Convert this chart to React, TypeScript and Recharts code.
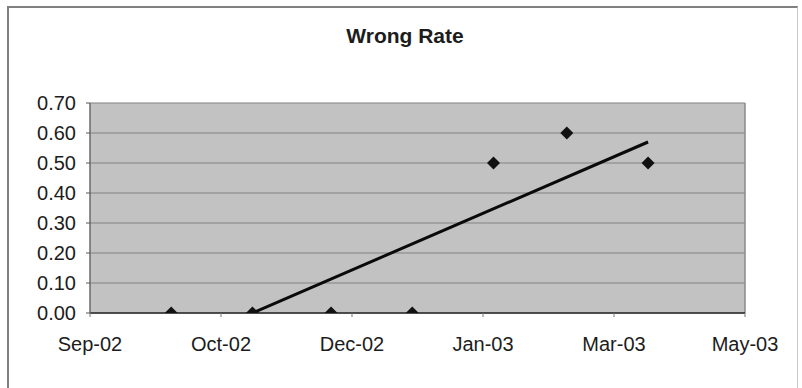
import React from "react";
import {
  CartesianGrid,
  ReferenceLine,
  Scatter,
  ScatterChart,
  XAxis,
  YAxis,
} from "recharts";

// sample dates (2nd of each month) and the wrong rate
const sampleDates = [
  "2002-10-02",
  "2002-11-02",
  "2002-12-02",
  "2003-01-02",
  "2003-02-02",
  "2003-03-02",
  "2003-04-02",
];
const wrongRate = [0, 0, 0, 0, 0.5, 0.6, 0.5];

// linear trendline, shown from where it crosses zero up to the last sample
const trendDates = ["2002-11-02", "2003-04-02"];
const trendValues = [0, 0.57];

// Excel-style axis: 50-day major unit from 1 Sep 2002
const xTickDates = [
  "2002-09-01",
  "2002-10-21",
  "2002-12-10",
  "2003-01-29",
  "2003-03-20",
  "2003-05-09",
];
const yTicks = [0, 0.1, 0.2, 0.3, 0.4, 0.5, 0.6, 0.7];

const MONTHS = ["Jan", "Feb", "Mar", "Apr", "May", "Jun", "Jul", "Aug", "Sep", "Oct", "Nov", "Dec"];

function toDay(iso: string): number {
  const [y, m, d] = iso.split("-").map(Number);
  return Date.UTC(y, m - 1, d) / 86400000;
}

function formatMonth(day: number): string {
  const dt = new Date(Math.round(day) * 86400000);
  const yy = String(dt.getUTCFullYear() % 100).padStart(2, "0");
  return `${MONTHS[dt.getUTCMonth()]}-${yy}`;
}

const points = sampleDates.map((d, i) => ({ x: toDay(d), y: wrongRate[i] }));
const trend = trendDates.map((d, i) => ({ x: toDay(d), y: trendValues[i] }));
const xTicks = xTickDates.map(toDay);

const FONT = "'Liberation Sans', Arial, sans-serif";
const tickStyle = { fontFamily: FONT, fontSize: 20, fill: "#1c1c1c" };

function Diamond(props: any) {
  const { cx, cy } = props;
  if (cx == null || cy == null) return <g />;
  const r = 6.5;
  return (
    <polygon
      points={`${cx},${cy - r} ${cx + r},${cy} ${cx},${cy + r} ${cx - r},${cy}`}
      fill="#111"
    />
  );
}

export default function App() {
  return (
    <div
      style={{
        position: "relative",
        width: 802,
        height: 388,
        overflow: "hidden",
        background: "#fff",
      }}
    >
      <style>{"body{margin:0}"}</style>
      <div
        style={{
          position: "absolute",
          left: 7,
          top: 6,
          width: 788,
          height: 400,
          borderLeft: "2px solid #808080",
          borderTop: "2px solid #808080",
          borderRight: "1px solid #c8c8c8",
        }}
      />
      <div
        style={{
          position: "absolute",
          left: 0,
          top: 25,
          width: 810,
          textAlign: "center",
          fontFamily: FONT,
          fontWeight: "bold",
          fontSize: 21,
          lineHeight: "21px",
          color: "#1c1c1c",
        }}
      >
        Wrong Rate
      </div>
      <div style={{ position: "absolute", left: 0, top: 0 }}>
        <ScatterChart
          width={802}
          height={388}
          margin={{ top: 103, right: 57, bottom: 0, left: 0 }}
        >
          <CartesianGrid
            vertical={false}
            fill="#c2c2c2"
            fillOpacity={1}
            stroke="#828282"
            strokeWidth={1.2}
          />
          <XAxis
            type="number"
            dataKey="x"
            domain={[xTicks[0], xTicks[xTicks.length - 1]]}
            ticks={xTicks}
            tickFormatter={formatMonth}
            allowDataOverflow
            height={75}
            tick={tickStyle}
            tickSize={4}
            tickMargin={20}
            axisLine={{ stroke: "#2a2a2a", strokeWidth: 1.5 }}
            tickLine={{ stroke: "#777" }}
          />
          <YAxis
            type="number"
            dataKey="y"
            domain={[0, 0.7]}
            ticks={yTicks}
            tickFormatter={(v: number) => v.toFixed(2)}
            allowDataOverflow
            width={90}
            tick={tickStyle}
            tickSize={4}
            tickMargin={10}
            axisLine={{ stroke: "#6a6a6a", strokeWidth: 1.5 }}
            tickLine={{ stroke: "#555" }}
          />
          <ReferenceLine
            x={xTicks[xTicks.length - 1]}
            stroke="#8a8a8a"
            strokeWidth={1.5}
          />
          <Scatter
            data={trend}
            line={{ stroke: "#0a0a0a", strokeWidth: 3 }}
            shape={() => <g />}
            legendType="none"
            isAnimationActive={false}
          />
          <Scatter
            data={points}
            shape={Diamond}
            isAnimationActive={false}
          />
        </ScatterChart>
      </div>
    </div>
  );
}
